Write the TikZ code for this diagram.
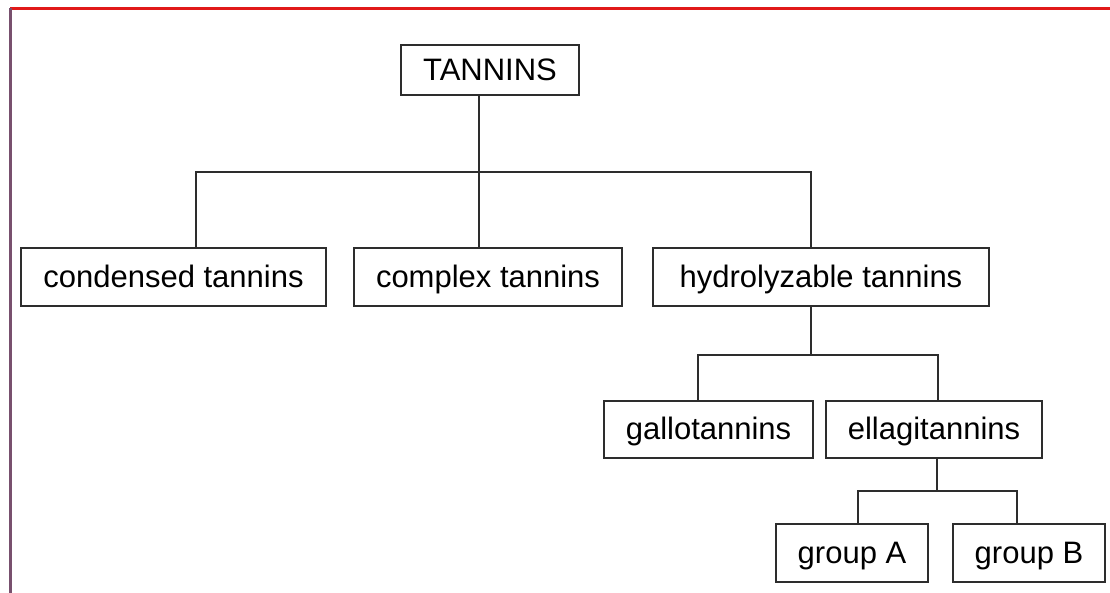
\documentclass[tikz,border=0pt]{standalone}
\usepackage{fontspec}
\setmainfont{Liberation Sans}
\definecolor{boxline}{RGB}{45,45,45}
\definecolor{topred}{RGB}{225,25,25}
\definecolor{leftline}{RGB}{120,80,110}
\begin{document}
\begin{tikzpicture}[x=1pt,y=1pt,
  box/.style={draw=boxline,line width=1.6pt,inner sep=0pt,text height=23.5pt,text depth=3pt,
    font=\fontsize{31}{36}\selectfont,text=black},
  conn/.style={draw=boxline,line width=1.6pt}]
\useasboundingbox (0,0) rectangle (1110,-593);
\fill[white] (0,0) rectangle (1110,-593);
% frame lines
\draw[topred,line width=2.2pt] (10,-8.5) -- (1110,-8.5);
\draw[leftline,line width=2.4pt] (10.5,-8) -- (10.5,-593);
% nodes
\node[box,minimum width=178pt,minimum height=50pt] (tan) at (490,-70) {TANNINS};
\node[box,minimum width=305pt,minimum height=58pt] (cond) at (173.5,-277) {condensed tannins};
\node[box,minimum width=268pt,minimum height=58pt] (comp) at (488,-277) {complex tannins};
\node[box,minimum width=336pt,minimum height=58pt] (hyd) at (821,-277) {hydrolyzable tannins};
\node[box,minimum width=209pt,minimum height=57pt] (gal) at (708.5,-429.5) {gallotannins};
\node[box,minimum width=216pt,minimum height=57pt] (ell) at (934,-429.5) {ellagitannins};
\node[box,minimum width=152pt,minimum height=58pt] (ga) at (852,-553) {group A};
\node[box,minimum width=152pt,minimum height=58pt] (gb) at (1029,-553) {group B};
% junction coordinates
\coordinate (j1) at (479,-172);
\coordinate (k1) at (196,-172);
\coordinate (k3) at (811,-172);
\coordinate (m) at (811,-355);
\coordinate (m1) at (698,-355);
\coordinate (m2) at (938,-355);
\coordinate (n) at (937,-491);
\coordinate (n1) at (858,-491);
\coordinate (n2) at (1017,-491);
% connectors
\draw[conn] (tan.south -| j1) -- (j1) -- (j1 |- comp.north);
\draw[conn] (k1 |- cond.north) -- (k1) -- (k3) -- (k3 |- hyd.north);
\draw[conn] (hyd.south -| m) -- (m);
\draw[conn] (m1 |- gal.north) -- (m1) -- (m2) -- (m2 |- ell.north);
\draw[conn] (ell.south -| n) -- (n);
\draw[conn] (n1 |- ga.north) -- (n1) -- (n2) -- (n2 |- gb.north);
\end{tikzpicture}
\end{document}
